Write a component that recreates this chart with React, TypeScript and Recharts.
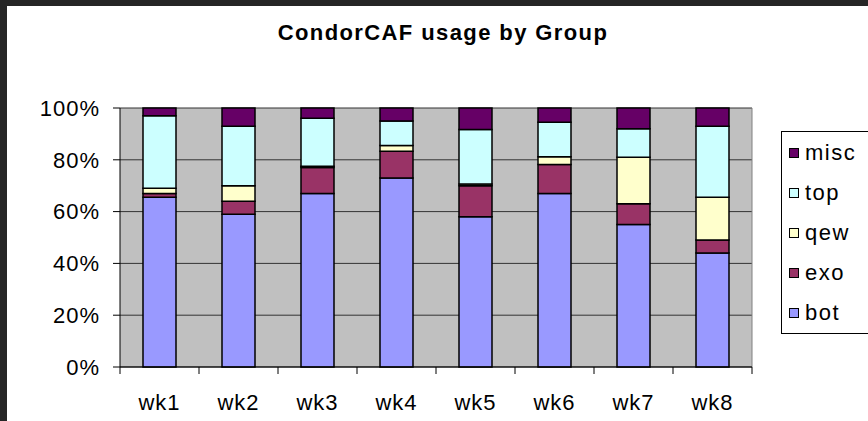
import { Bar, BarChart, CartesianGrid, Legend, XAxis, YAxis } from 'recharts';

const weeks = ['wk1', 'wk2', 'wk3', 'wk4', 'wk5', 'wk6', 'wk7', 'wk8'];
const bot = [65.5, 59, 67, 73, 58, 67, 55, 44];
const exo = [1.5, 5, 10, 10.3, 12, 11.2, 8, 5];
const qew = [2, 6, 0.5, 2.2, 0.7, 3, 18, 16.5];
const top = [28, 23, 18.5, 9.5, 21, 13.3, 11, 27.5];
const misc = [3, 7, 4, 5, 8.3, 5.5, 8, 7];
const yTicks = [0, 20, 40, 60, 80, 100];

const series = [
  { key: 'bot', values: bot, color: '#9999FF' },
  { key: 'exo', values: exo, color: '#993366' },
  { key: 'qew', values: qew, color: '#FFFFCC' },
  { key: 'top', values: top, color: '#CCFFFF' },
  { key: 'misc', values: misc, color: '#660066' },
];

const rows = weeks.map((wk, i) => {
  const row: Record<string, string | number> = { wk };
  series.forEach((s) => {
    row[s.key] = s.values[i];
  });
  return row;
});

const FONT = '"Liberation Sans", Arial, sans-serif';

function WeekTick(props: any) {
  const { x, y, payload, index } = props;
  const half = payload.offset ?? 39.5;
  return (
    <g>
      <line x1={x - half} x2={x - half} y1={y} y2={y + 7} stroke="#000" />
      {index === weeks.length - 1 && <line x1={x + half} x2={x + half} y1={y} y2={y + 7} stroke="#000" />}
      <text x={x} y={y + 43} textAnchor="middle" fontSize={22} letterSpacing={1} fill="#000" fontFamily={FONT}>
        {payload.value}
      </text>
    </g>
  );
}

function GroupLegend() {
  return (
    <div
      style={{
        border: '1px solid #000',
        width: 110,
        boxSizing: 'border-box',
        paddingTop: 1,
        background: '#fff',
        fontFamily: FONT,
      }}
    >
      {[...series].reverse().map((s) => (
        <div key={s.key} style={{ display: 'flex', alignItems: 'center', height: 40 }}>
          <span
            style={{
              marginLeft: 7,
              width: 10,
              height: 10,
              boxSizing: 'border-box',
              border: '1px solid #000',
              background: s.color,
            }}
          />
          <span style={{ marginLeft: 6, fontSize: 22, letterSpacing: 1.5, color: '#000' }}>{s.key}</span>
        </div>
      ))}
    </div>
  );
}

export default function App() {
  return (
    <div
      style={{
        position: 'absolute',
        left: 0,
        top: 0,
        width: 868,
        height: 421,
        overflow: 'hidden',
        background: '#fff',
        fontFamily: FONT,
      }}
    >
      <BarChart width={868} height={421} data={rows} margin={{ top: 108, right: 116, bottom: 0, left: 0 }}>
        <CartesianGrid vertical={false} stroke="#333" fill="#C0C0C0" />
        <CartesianGrid
          horizontal={false}
          stroke="#808080"
          verticalCoordinatesGenerator={({ offset }: any) => [offset.left + offset.width]}
        />
        <XAxis
          dataKey="wk"
          height={54}
          axisLine={{ stroke: '#000' }}
          tickLine={false}
          tickSize={0}
          tickMargin={0}
          interval={0}
          tick={<WeekTick />}
        />
        <YAxis
          width={120}
          domain={[0, 100]}
          ticks={yTicks}
          axisLine={{ stroke: '#000' }}
          tickLine={{ stroke: '#000' }}
          tickSize={7}
          tickMargin={13}
          tickFormatter={(v: number) => `${v}%`}
          tick={{ fill: '#000', fontSize: 22, letterSpacing: 1, fontFamily: FONT }}
        />
        <Legend
          layout="vertical"
          align="center"
          verticalAlign="middle"
          content={() => <GroupLegend />}
          wrapperStyle={{ left: 781, top: 131, right: 'auto', bottom: 'auto', width: 110 }}
        />
        {series.map((s) => (
          <Bar
            key={s.key}
            dataKey={s.key}
            stackId="g"
            fill={s.color}
            stroke="#000"
            strokeWidth={1.5}
            barSize={33}
            isAnimationActive={false}
          />
        ))}
      </BarChart>
      <svg width={868} height={421} style={{ position: 'absolute', left: 0, top: 0, pointerEvents: 'none' }}>
        <rect x={0} y={0} width={868} height={6} fill="#262626" />
        <rect x={0} y={0} width={7} height={421} fill="#262626" />
        <text x={443} y={40} textAnchor="middle" fontSize={22} fontWeight="bold" letterSpacing={1.4} fontFamily={FONT} fill="#000">
          CondorCAF usage by Group
        </text>
      </svg>
    </div>
  );
}
